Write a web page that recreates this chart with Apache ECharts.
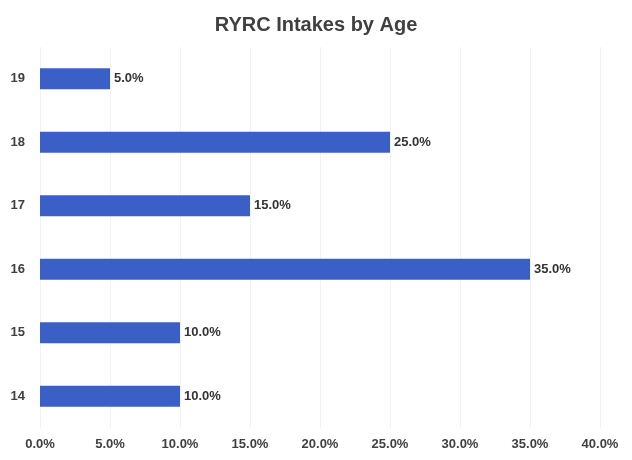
<!DOCTYPE html>
<html>
<head>
<meta charset="utf-8">
<script src="https://cdn.jsdelivr.net/npm/echarts@6/dist/echarts.min.js"></script>
<style>
	html, body { margin: 0; padding: 0; background: #fff; }
	#chart { width: 632px; height: 460px; }
</style>
</head>
<body>
<div id="chart"></div>
<script>
const ages = ['14', '15', '16', '17', '18', '19'];
const intakeShare = [10.0, 10.0, 35.0, 15.0, 25.0, 5.0];
const chartTitle = 'RYRC Intakes by Age';

const chart = echarts.init(document.getElementById('chart'));
chart.setOption({
	animation: false,
	textStyle: { fontFamily: "'Liberation Sans', Arial, sans-serif" },
	title: {
		text: chartTitle,
		left: 'center',
		top: 10,
		textStyle: {
			fontFamily: "'Liberation Sans', Arial, sans-serif",
			fontSize: 20,
			fontWeight: 'bold',
			color: '#404040'
		}
	},
	grid: { left: 40, right: 32, top: 47, bottom: 32 },
	xAxis: {
		type: 'value',
		min: 0,
		max: 40,
		interval: 5,
		axisLine: { show: false },
		axisTick: { show: false },
		splitLine: { lineStyle: { color: '#f2f2f2' } },
		axisLabel: {
			formatter: v => v.toFixed(1) + '%',
			fontFamily: "'Liberation Sans', Arial, sans-serif",
			color: '#404040',
			fontWeight: 'bold',
			fontSize: 13,
			margin: 10
		}
	},
	yAxis: {
		type: 'category',
		data: ages,
		axisLine: { show: false },
		axisTick: { show: false },
		axisLabel: {
			fontFamily: "'Liberation Sans', Arial, sans-serif",
			color: '#404040',
			fontWeight: 'bold',
			fontSize: 13,
			margin: 15
		}
	},
	series: [{
		type: 'bar',
		data: intakeShare,
		barWidth: 21,
		itemStyle: { color: '#3a60c8' },
		label: {
			show: true,
			position: 'right',
			distance: 4,
			formatter: p => p.value.toFixed(1) + '%',
			fontFamily: "'Liberation Sans', Arial, sans-serif",
			color: '#333333',
			fontWeight: 'bold',
			fontSize: 13
		}
	}]
});
</script>
</body>
</html>
